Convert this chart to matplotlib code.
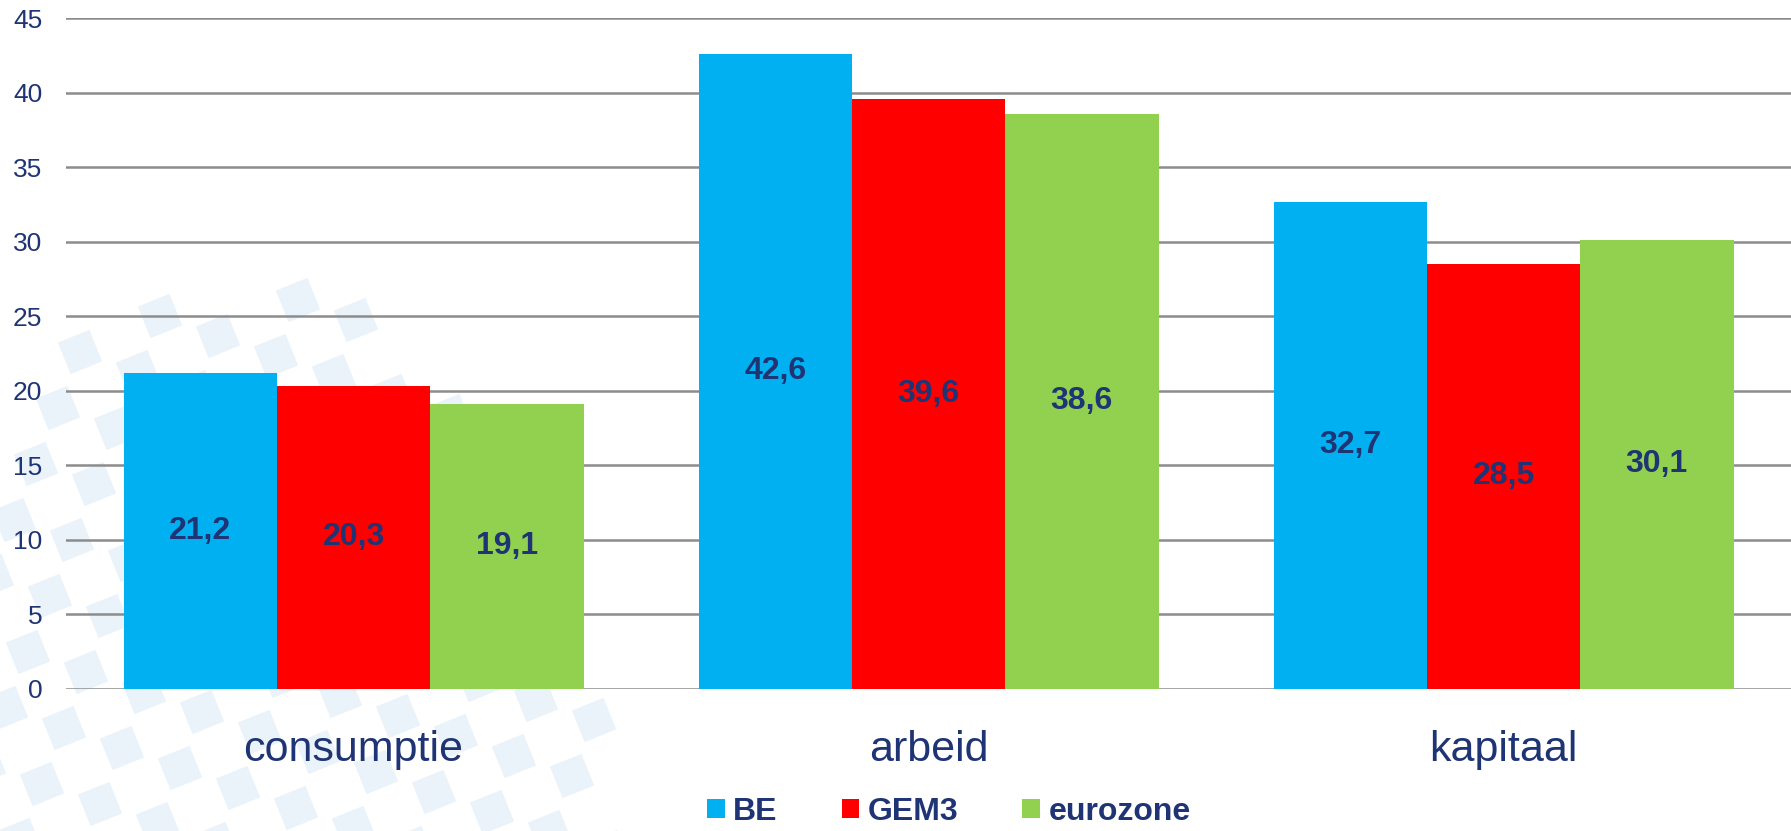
import numpy as np
import matplotlib
matplotlib.use("Agg")
import matplotlib.pyplot as plt
from matplotlib.patches import Polygon

# data
categories = ["consumptie", "arbeid", "kapitaal"]
series = ["BE", "GEM3", "eurozone"]
be = [21.2, 42.6, 32.7]
gem3 = [20.3, 39.6, 28.5]
eurozone = [19.1, 38.6, 30.1]
labels_be = ["21,2", "42,6", "32,7"]
labels_gem3 = ["20,3", "39,6", "28,5"]
labels_eurozone = ["19,1", "38,6", "30,1"]
yticks = [0, 5, 10, 15, 20, 25, 30, 35, 40, 45]

colors = ["#00B0F0", "#FF0000", "#92D050"]
navy = "#1F3474"
plt.rcParams["font.family"] = ["Liberation Sans", "DejaVu Sans"]

W, H = 1791, 831
fig = plt.figure(figsize=(W / 100, H / 100), dpi=100)

# faint watermark of tilted squares in the lower left (background axes in pixels)
bg = fig.add_axes([0, 0, 1, 1], zorder=-1)
bg.set_xlim(0, W)
bg.set_ylim(H, 0)
bg.axis("off")
ang = np.deg2rad(-22)
rot = np.array([[np.cos(ang), -np.sin(ang)], [np.sin(ang), np.cos(ang)]])
sq = np.array([[-17, -17], [17, -17], [17, 17], [-17, 17]])
for i in range(-2, 16):
    for j in range(-2, 16):
        cx = 20 + i * 58 + j * 22
        cy = 840 - j * 56 + i * 20
        if ((cx - 250) / 360) ** 2 + ((cy - 831) / 545) ** 2 > 1:
            continue
        bg.add_patch(Polygon(sq @ rot.T + [cx, cy], closed=True,
                             facecolor="#EAF2FA", edgecolor="none"))

ax = fig.add_axes([66 / W, 1 - 688.7 / H, 1 - 66 / W, (688.7 - 18.3) / H], zorder=1)
ax.set_facecolor("none")

x = np.arange(len(categories))
w = 0.8 / 3
for k, (vals, labs) in enumerate([(be, labels_be), (gem3, labels_gem3), (eurozone, labels_eurozone)]):
    pos = x + (k - 1) * w
    ax.bar(pos, vals, width=w, color=colors[k], label=series[k], zorder=3)
    for p, v, t in zip(pos, vals, labs):
        ax.text(p, v / 2, t, ha="center", va="center", fontsize=23,
                fontweight="bold", color=navy, zorder=4)

ax.set_xlim(-0.5, 2.5)
ax.set_ylim(0, 45)
ax.set_yticks(yticks)
ax.set_yticklabels([str(t) for t in yticks], fontsize=19, color=navy)
ax.set_xticks(x)
ax.set_xticklabels(categories, fontsize=31, color=navy)
ax.tick_params(axis="y", length=0, pad=17)
ax.tick_params(axis="x", length=0, pad=30)
ax.yaxis.grid(True, color="#8C8C8C", linewidth=1.8, zorder=1)
for s in ax.spines.values():
    s.set_visible(False)

fig.legend(loc="center", bbox_to_anchor=(949 / W, 1 - 812 / H), ncol=3,
           frameon=False, handlelength=0.55, handleheight=0.55,
           handletextpad=0.27, columnspacing=2.0, borderpad=0.1,
           prop={"size": 23, "weight": "bold"}, labelcolor=navy)

fig.savefig("out.png", dpi=100)
